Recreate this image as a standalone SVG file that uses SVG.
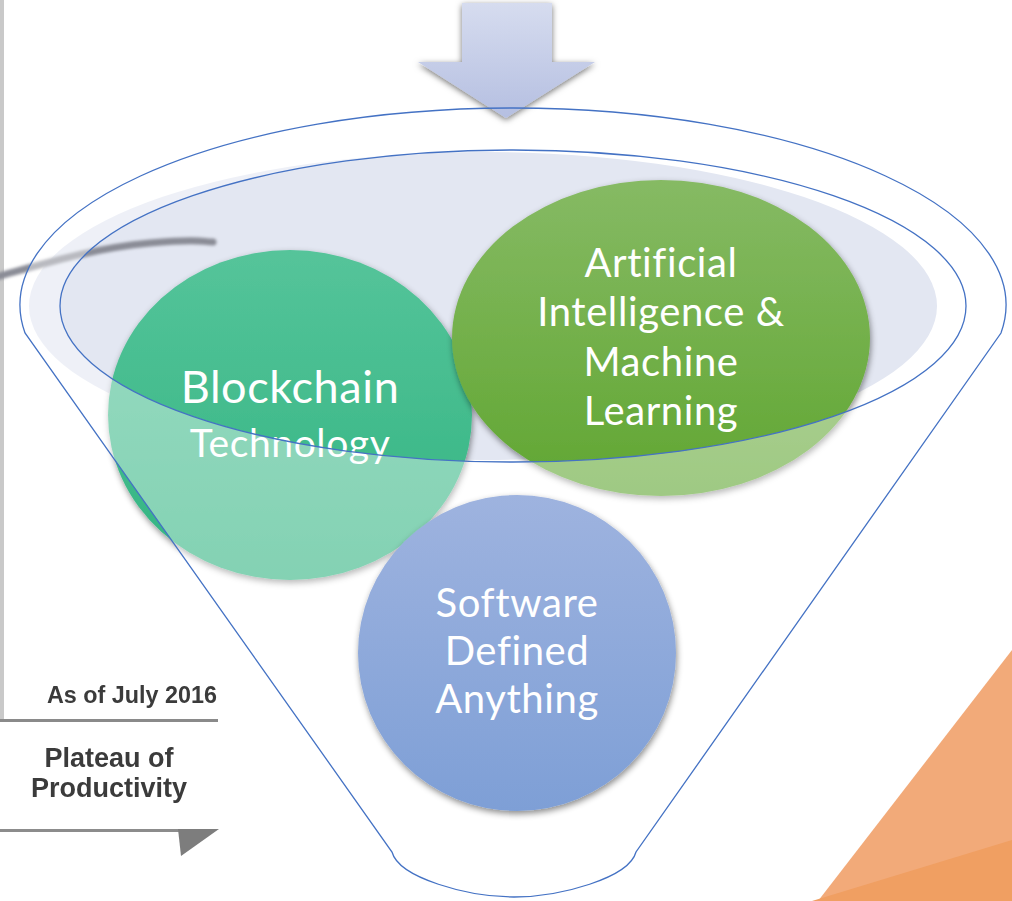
<svg xmlns="http://www.w3.org/2000/svg" width="1012" height="901" viewBox="0 0 1012 901">
  <defs>
    <style>
      .legend { font-family: "Liberation Sans", Arial, sans-serif; font-weight: bold; fill: #3a3a3a; }
      .label { font-family: Lato, "Open Sans", sans-serif; fill: #ffffff; text-anchor: middle; }
      .funnel-line { fill: none; stroke: #4472C4; stroke-width: 1.3; }
    </style>
    <linearGradient id="gBlock" x1="0" y1="0" x2="0" y2="1">
      <stop offset="0" stop-color="#55C49A"/>
      <stop offset="1" stop-color="#32B481"/>
    </linearGradient>
    <linearGradient id="gAi" x1="0" y1="0" x2="0" y2="1">
      <stop offset="0" stop-color="#86BA64"/>
      <stop offset="1" stop-color="#60A631"/>
    </linearGradient>
    <linearGradient id="gSoft" x1="0" y1="0" x2="0" y2="1">
      <stop offset="0" stop-color="#9EB3DF"/>
      <stop offset="1" stop-color="#7E9FD6"/>
    </linearGradient>
    <linearGradient id="gArrow" x1="0" y1="0" x2="0" y2="1">
      <stop offset="0" stop-color="#D6DCEF"/>
      <stop offset="1" stop-color="#B5BFE1"/>
    </linearGradient>
    <filter id="shadow" x="-10%" y="-10%" width="120%" height="125%">
      <feDropShadow dx="1" dy="3" stdDeviation="3" flood-color="#000" flood-opacity="0.45"/>
    </filter>
    <filter id="arrowShadow" x="-20%" y="-20%" width="140%" height="140%">
      <feDropShadow dx="0" dy="2" stdDeviation="3" flood-color="#000" flood-opacity="0.55"/>
    </filter>
    <filter id="soft" filterUnits="userSpaceOnUse" x="-10" y="-10" width="260" height="920">
      <feGaussianBlur stdDeviation="0.7"/>
    </filter>
    <filter id="softer" filterUnits="userSpaceOnUse" x="-10" y="220" width="250" height="80">
      <feGaussianBlur stdDeviation="1.4"/>
    </filter>
  </defs>

  <rect width="1012" height="901" fill="#ffffff"/>

  <!-- hype-cycle chart fragment on the left -->
  <g id="hype-chart" filter="url(#soft)">
    <rect x="0" y="0" width="4" height="719" fill="#c9c9c9"/>
    <rect x="0" y="719" width="218" height="3" fill="#8a8a8a"/>
    <rect x="0" y="829" width="185" height="3" fill="#8c8c8c"/>
    <polygon points="178,829 219,829 181,856" fill="#7d7d7d"/>
    <text class="legend" x="217" y="703" font-size="23" text-anchor="end" textLength="170" lengthAdjust="spacingAndGlyphs">As of July 2016</text>
    <text class="legend" x="109" y="767" font-size="27" text-anchor="middle">Plateau of</text>
    <text class="legend" x="109" y="797" font-size="27" text-anchor="middle">Productivity</text>
  </g>

  <!-- funnel mouth fill -->
  <ellipse id="funnel-fill" cx="483" cy="306" rx="454" ry="154" fill="#E3E7F2"/>

  <!-- hype curve plateau line -->
  <path id="hype-curve" d="M -4 277 C 50 262, 95 248, 150 243 S 200 242, 213 242" fill="none" stroke="#8A8C96" stroke-width="7" stroke-linecap="round" filter="url(#softer)"/>

  <g id="node-blockchain">
    <ellipse cx="290" cy="415" rx="182" ry="165" fill="url(#gBlock)" filter="url(#shadow)"/>
    <text class="label" x="290" y="403" font-size="45" letter-spacing="0.6">Blockchain</text>
    <text class="label" x="290" y="457" font-size="39" letter-spacing="0.6">Technology</text>
  </g>

  <g id="node-ai-ml">
    <ellipse cx="661" cy="338" rx="209" ry="158" fill="url(#gAi)" filter="url(#shadow)"/>
    <text class="label" x="661" y="277" font-size="40" letter-spacing="0.6">Artificial</text>
    <text class="label" x="661" y="326" font-size="40" letter-spacing="0.6">Intelligence &amp;</text>
    <text class="label" x="661" y="376" font-size="40" letter-spacing="0.6">Machine</text>
    <text class="label" x="661" y="425" font-size="40" letter-spacing="0.6">Learning</text>
  </g>

  <!-- translucent funnel body (outside the mouth) -->
  <path id="funnel-body" fill="#ffffff" fill-opacity="0.4" fill-rule="evenodd"
        d="M 25 333 A 493 197 0 1 1 1001 333 L 636 852 C 629 878 560 897 514 897 C 468 897 399 878 392 852 Z
           M 60 306 A 453 156 0 1 0 966 306 A 453 156 0 1 0 60 306 Z"/>

  <g id="node-software">
    <ellipse cx="517" cy="653" rx="159" ry="158" fill="url(#gSoft)" filter="url(#shadow)"/>
    <text class="label" x="517" y="617" font-size="40" letter-spacing="0.6">Software</text>
    <text class="label" x="517" y="665" font-size="40" letter-spacing="0.6">Defined</text>
    <text class="label" x="517" y="713" font-size="40" letter-spacing="0.6">Anything</text>
  </g>

  <g id="connectors">
    <!-- inflow arrow into the funnel -->
    <polygon points="462,3 552,3 552,62 595,62 506,118 418,62 462,62" fill="url(#gArrow)" filter="url(#arrowShadow)"/>
  </g>

  <!-- funnel outline -->
  <g id="funnel-outline">
    <path class="funnel-line" d="M 25 333 A 493 197 0 1 1 1001 333 L 636 852 C 629 878 560 897 514 897 C 468 897 399 878 392 852 Z"/>
    <ellipse class="funnel-line" cx="513" cy="306" rx="453" ry="156"/>
  </g>

  <!-- corner accent -->
  <g id="corner-accent">
    <polygon points="1012,650 818,901 1012,901" fill="#F2AA79"/>
    <polygon points="1012,840 812,901 1012,901" fill="#F09F62"/>
  </g>
</svg>
